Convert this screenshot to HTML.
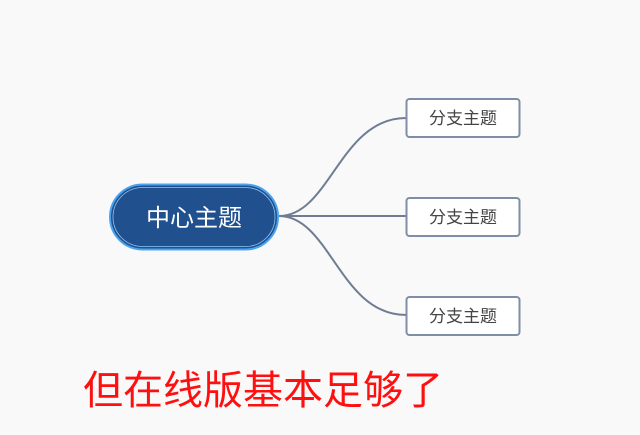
<!DOCTYPE html>
<html><head><meta charset="utf-8"><style>
html,body{margin:0;padding:0;width:640px;height:435px;background:#f9f9f9;overflow:hidden}
svg{display:block}
</style></head><body>
<svg width="640" height="435" viewBox="0 0 640 435" xmlns="http://www.w3.org/2000/svg">
<rect width="640" height="435" fill="#f9f9f9"/>
<g fill="none" stroke="#6f7d94" stroke-width="2">
<path d="M279 216 C330 216 340 118 406 118"/>
<path d="M279 216 L406 216"/>
<path d="M279 216 C330 216 340 315 406 315"/>
</g>
<rect x="110" y="184.5" width="168" height="65" rx="32.5" fill="#21508f" stroke="#4aa3ef" stroke-width="2"/>
<rect x="113" y="187.5" width="162" height="59" rx="29.5" fill="none" stroke="#8cc6f5" stroke-width="0.8"/>
<text x="194" y="226" font-family="Liberation Sans, Noto Sans CJK SC, sans-serif" font-size="24" fill="#ffffff" text-anchor="middle">中心主题</text>
<g stroke="#7f8ea6" stroke-width="2" fill="#ffffff">
<rect x="406.5" y="99" width="113" height="38" rx="3"/>
<rect x="406.5" y="198" width="113" height="38" rx="3"/>
<rect x="406.5" y="297" width="113" height="38" rx="3"/>
</g>
<g font-family="Liberation Sans, Noto Sans CJK SC, sans-serif" font-size="17" fill="#444" text-anchor="middle">
<text x="463" y="124">分支主题</text>
<text x="463" y="223">分支主题</text>
<text x="463" y="322">分支主题</text>
</g>
<text x="83" y="404" font-family="Liberation Sans, Noto Sans CJK SC, sans-serif" font-size="40" fill="#ff1010" textLength="360" lengthAdjust="spacingAndGlyphs">但在线版基本足够了</text>
</svg>
</body></html>
